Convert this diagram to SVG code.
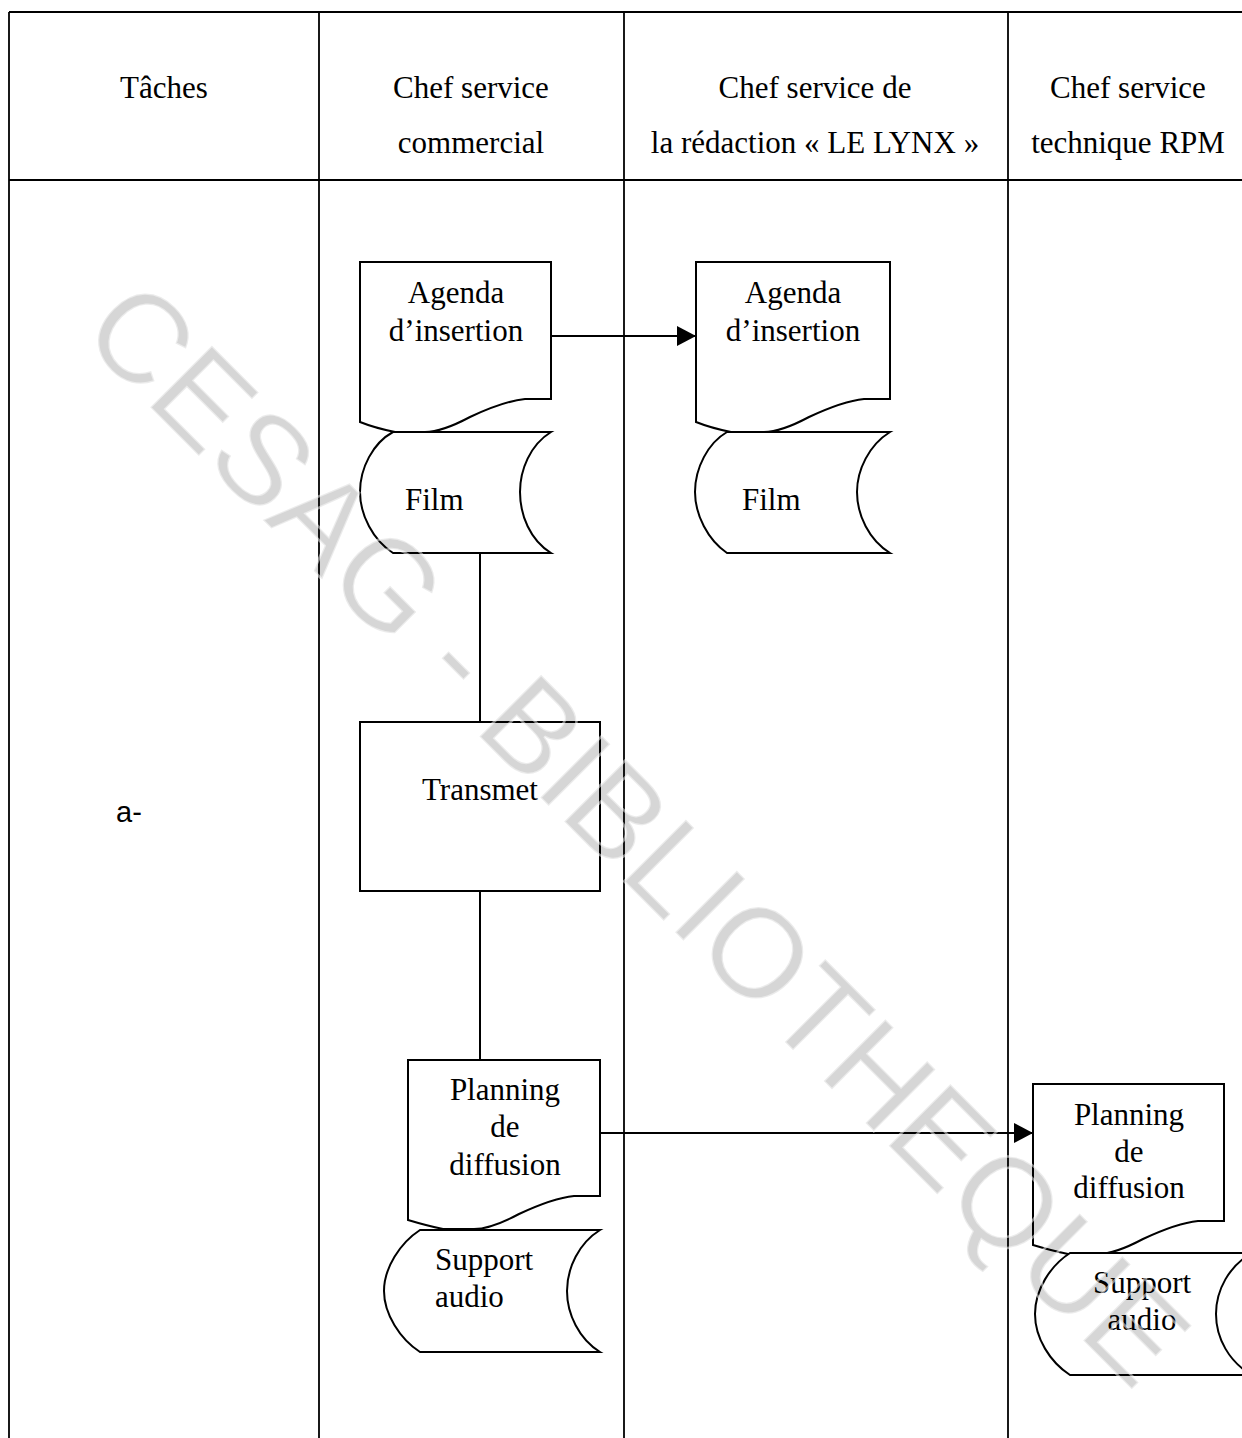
<svg xmlns="http://www.w3.org/2000/svg" width="1242" height="1438" viewBox="0 0 1242 1438">
<defs>
<style>
.grid{stroke:#000;stroke-width:1.8;fill:none}
.shape{stroke:#000;stroke-width:2;fill:#fff}
.conn{stroke:#000;stroke-width:2;fill:none}
.t{font-family:"Liberation Serif","Times New Roman",serif;font-size:31px;fill:#000}
.c{text-anchor:middle}
.wm{font-family:"Liberation Sans",Arial,sans-serif;font-size:127px;fill:#000;fill-opacity:0.16;stroke:#fff;stroke-width:2.5;stroke-opacity:0.5}
</style>
<marker id="arr" markerWidth="20" markerHeight="20" refX="19" refY="10" orient="auto" markerUnits="userSpaceOnUse">
<path d="M0,0 L19,10 L0,20 Z" fill="#000"/>
</marker>
</defs>
<rect width="1242" height="1438" fill="#fff"/>
<g id="table">
<line class="grid" x1="9" y1="12" x2="1242" y2="12"/>
<line class="grid" x1="9" y1="180" x2="1242" y2="180"/>
<line class="grid" x1="9" y1="12" x2="9" y2="1438"/>
<line class="grid" x1="319" y1="12" x2="319" y2="1438"/>
<line class="grid" x1="624" y1="12" x2="624" y2="1438"/>
<line class="grid" x1="1008" y1="12" x2="1008" y2="1438"/>
<text class="t c" x="164" y="98">Tâches</text>
<text class="t c" x="471" y="98">Chef service</text>
<text class="t c" x="471" y="153">commercial</text>
<text class="t c" x="815" y="98">Chef service de</text>
<text class="t c" x="815" y="153">la rédaction « LE LYNX »</text>
<text class="t c" x="1128" y="98">Chef service</text>
<text class="t c" x="1128" y="153">technique RPM</text>
<text x="116" y="822" font-family="Liberation Sans, Arial, sans-serif" font-size="29" fill="#000">a-</text>
</g>
<g id="connectors">
<line class="conn" x1="551" y1="336" x2="696" y2="336" marker-end="url(#arr)"/>
<line class="conn" x1="480" y1="553" x2="480" y2="722"/>
<line class="conn" x1="480" y1="891" x2="480" y2="1060"/>
<line class="conn" x1="600" y1="1133" x2="1033" y2="1133" marker-end="url(#arr)"/>
</g>
<g id="agenda1">
<path class="shape" d="M360,262 h191 v137 h-26 c-20,2 -40,11 -55,18 c-15,8 -30,15 -45,15 h-30 c-10,-2 -25,-6 -35,-10 z"/>
<text class="t c" x="456" y="303">Agenda</text>
<text class="t c" x="456" y="341">d’insertion</text>
</g>
<g id="film1">
<path class="shape" d="M393,432 H551 C530,445 520,470 520,492 C520,515 530,540 551,553 H393 C373,540 360,515 360,492 C360,468 373,443 393,432 Z"/>
<text class="t" x="405" y="510">Film</text>
</g>
<g id="agenda2">
<path class="shape" d="M696,262 h194 v137 h-26 c-20,2 -40,11 -55,18 c-15,8 -30,15 -45,15 h-33 c-10,-2 -25,-6 -35,-10 z"/>
<text class="t c" x="793" y="303">Agenda</text>
<text class="t c" x="793" y="341">d’insertion</text>
</g>
<g id="film2">
<path class="shape" d="M727,432 H890 C869,445 857,470 857,492 C857,515 869,540 890,553 H727 C708,540 695,515 695,492 C695,468 708,443 727,432 Z"/>
<text class="t" x="742" y="510">Film</text>
</g>
<g id="transmet">
<rect class="shape" x="360" y="722" width="240" height="169"/>
<text class="t c" x="480" y="800">Transmet</text>
</g>
<g id="planning1">
<path class="shape" d="M408,1060 h192 v136 h-26 c-20,2 -40,11 -55,18 c-15,8 -30,15 -45,15 h-31 c-10,-2 -25,-6 -35,-9 z"/>
<text class="t c" x="505" y="1100">Planning</text>
<text class="t c" x="505" y="1137">de</text>
<text class="t c" x="505" y="1175">diffusion</text>
</g>
<g id="support1">
<path class="shape" d="M420,1230 H600 C579,1243 567,1268 567,1291 C567,1314 579,1339 600,1352 H420 C400,1339 384,1314 384,1291 C384,1268 400,1243 420,1230 Z"/>
<text class="t" x="435" y="1270">Support</text>
<text class="t" x="435" y="1307">audio</text>
</g>
<g id="planning2">
<path class="shape" d="M1033,1084 h191 v137 h-26 c-20,2 -40,11 -55,18 c-15,8 -30,15 -45,15 h-30 c-10,-2 -25,-6 -35,-9 z"/>
<text class="t c" x="1129" y="1125">Planning</text>
<text class="t c" x="1129" y="1162">de</text>
<text class="t c" x="1129" y="1198">diffusion</text>
</g>
<g id="support2">
<path class="shape" d="M1070,1253 H1252 C1229,1266 1216,1290 1216,1314 C1216,1338 1229,1362 1252,1375 H1070 C1050,1362 1035,1338 1035,1314 C1035,1290 1050,1266 1070,1253 Z"/>
<text class="t c" x="1142" y="1293">Support</text>
<text class="t c" x="1142" y="1330">audio</text>
</g>
<text class="wm" transform="rotate(45)" x="292" y="182">CESAG - BIBLIOTHEQUE</text>
</svg>
